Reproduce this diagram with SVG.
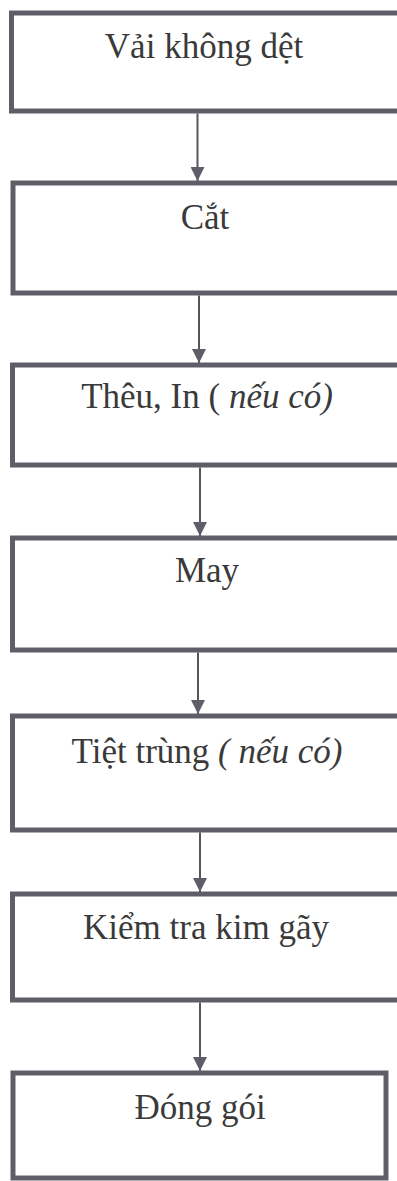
<svg xmlns="http://www.w3.org/2000/svg" width="397" height="1181" viewBox="0 0 397 1181">
<style>
.box{fill:#fff;stroke:#5e5e68;stroke-width:5}
.lbl{font-family:"Liberation Serif","Times New Roman",serif;font-size:35px;fill:#3a3a3a;text-anchor:middle}
.it{font-style:italic}
.con{stroke:#55555e;stroke-width:2;fill:none}
</style>
<defs>
<marker id="ah" viewBox="0 0 14 14" refX="14" refY="7" markerWidth="14" markerHeight="14" markerUnits="userSpaceOnUse" orient="auto">
<path d="M0,0 L14,7 L0,14 Z" fill="#5e5e68"/>
</marker>
</defs>
<rect width="397" height="1181" fill="#fff"/>
<g id="n1"><rect class="box" x="11.5" y="13" width="395" height="98"/><text class="lbl" x="204" y="58">Vải không dệt</text></g>
<g id="n2"><rect class="box" x="13" y="183" width="395" height="110"/><text class="lbl" x="205" y="229">Cắt</text></g>
<g id="n3"><rect class="box" x="12.5" y="365" width="395" height="100"/><text class="lbl" x="207" y="408">Thêu, In ( <tspan class="it">nếu có)</tspan></text></g>
<g id="n4"><rect class="box" x="12.5" y="538" width="395" height="112"/><text class="lbl" x="207" y="582">May</text></g>
<g id="n5"><rect class="box" x="12.5" y="716" width="395" height="114"/><text class="lbl" x="207" y="763">Tiệt trùng <tspan class="it">( nếu có)</tspan></text></g>
<g id="n6"><rect class="box" x="12.5" y="894" width="395" height="106"/><text class="lbl" x="206" y="939">Kiểm tra kim gãy</text></g>
<g id="n7"><rect class="box" x="13" y="1073" width="373" height="105"/><text class="lbl" x="200" y="1119">Đóng gói</text></g>
<g id="connectors">
<line class="con" x1="197.5" y1="113.5" x2="197.5" y2="181" marker-end="url(#ah)"/>
<line class="con" x1="199" y1="295.5" x2="199" y2="363" marker-end="url(#ah)"/>
<line class="con" x1="200" y1="467.5" x2="200" y2="536" marker-end="url(#ah)"/>
<line class="con" x1="198" y1="652.5" x2="198" y2="714" marker-end="url(#ah)"/>
<line class="con" x1="200" y1="832.5" x2="200" y2="892" marker-end="url(#ah)"/>
<line class="con" x1="200" y1="1002.5" x2="200" y2="1071" marker-end="url(#ah)"/>
</g>
</svg>
